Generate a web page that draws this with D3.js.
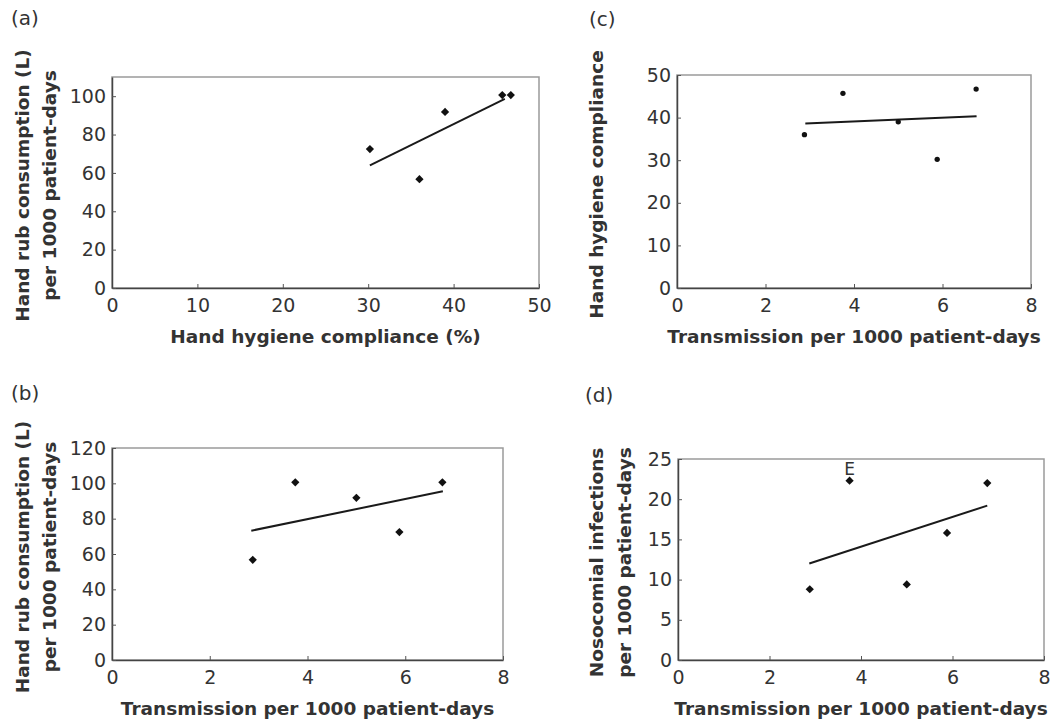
<!DOCTYPE html>
<html>
<head>
<meta charset="utf-8">
<script src="https://cdn.jsdelivr.net/npm/d3@7"></script>
<style>
  body { margin: 0; background: #fff; }
  svg text { font-family: "DejaVu Sans", sans-serif; fill: #333; }
</style>
</head>
<body>
<svg id="chart" width="1054" height="719"></svg>
<script>

// values per ward
var transmission = [2.88, 3.75, 5.0, 5.88, 6.76];
var compliance   = [36.0, 45.7, 39.0, 30.2, 46.7];
var handRub      = [56.7, 100.6, 91.8, 72.4, 100.6];
var infections   = [8.8, 22.3, 9.4, 15.8, 22.0];

// end points of the fitted lines
var fitA = {x: [30.2, 46.0], y: [63.9, 98.6]};
var fitB = {x: [2.85, 6.77], y: [73.2, 95.5]};
var fitC = {x: [2.9, 6.77], y: [38.6, 40.3]};
var fitD = {x: [2.87, 6.76], y: [12.0, 19.2]};

// tick labels
var ticksPct   = [0, 10, 20, 30, 40, 50];
var ticksTrans = [0, 2, 4, 6, 8];
var ticksRubA  = [0, 20, 40, 60, 80, 100];
var ticksRubB  = [0, 20, 40, 60, 80, 100, 120];
var ticksComp  = [0, 10, 20, 30, 40, 50];
var ticksInf   = [0, 5, 10, 15, 20, 25];

var svg = d3.select('#chart');

function drawPanel(p) {
  var x = d3.scaleLinear().domain(p.xDomain).range([p.left, p.right]);
  var y = d3.scaleLinear().domain(p.yDomain).range([p.bottom, p.top]);
  var g = svg.append('g');

  // frame: light top/right edges
  g.append('rect')
    .attr('x', p.left).attr('y', p.top)
    .attr('width', p.right - p.left).attr('height', p.bottom - p.top)
    .attr('fill', 'none')
    .attr('stroke', '#9a9a9a')
    .attr('stroke-width', 1.5);

  var xAxis = g.append('g')
    .attr('transform', 'translate(0,' + p.bottom + ')')
    .call(d3.axisBottom(x).tickValues(p.xTicks).tickFormat(d3.format('d'))
      .tickSizeInner(-4).tickSizeOuter(0).tickPadding(11));
  var yAxis = g.append('g')
    .attr('transform', 'translate(' + p.left + ',0)')
    .call(d3.axisLeft(y).tickValues(p.yTicks).tickFormat(d3.format('d'))
      .tickSizeInner(-4).tickSizeOuter(0).tickPadding(6));

  [xAxis, yAxis].forEach(function(a) {
    a.select('.domain').attr('stroke', '#444').attr('stroke-width', 1.5);
    a.selectAll('.tick line').attr('stroke', '#555');
    a.selectAll('.tick text').attr('font-size', 19).attr('fill', '#333')
      .style('font-family', '"DejaVu Sans", sans-serif');
  });

  // fitted line
  g.append('line')
    .attr('x1', x(p.fit.x[0])).attr('y1', y(p.fit.y[0]))
    .attr('x2', x(p.fit.x[1])).attr('y2', y(p.fit.y[1]))
    .attr('stroke', '#1a1a1a')
    .attr('stroke-width', 2);

  // points
  var pts = p.xs.map(function(v, i) { return [v, p.ys[i]]; });
  var sym = d3.symbol().type(p.round ? d3.symbolCircle : d3.symbolSquare).size(p.round ? 22 : 34);
  g.selectAll('path.pt').data(pts).enter()
    .append('path')
      .attr('class', 'pt')
      .attr('d', sym)
      .attr('fill', '#111')
      .attr('transform', function(d) {
        return 'translate(' + x(d[0]) + ',' + y(d[1]) + ')' + (p.round ? '' : ' rotate(45)');
      });

  // axis titles
  g.append('text')
    .attr('x', (p.left + p.right) / 2)
    .attr('y', p.bottom + 55)
    .attr('text-anchor', 'middle')
    .attr('font-size', 18.5)
    .attr('font-weight', 'bold')
    .text(p.xTitle);

  var cy = (p.top + p.bottom) / 2 + 3;
  p.yTitle.forEach(function(t, i) {
    g.append('text')
      .attr('transform', 'translate(' + p.yTitleX[i] + ',' + cy + ') rotate(-90)')
      .attr('text-anchor', 'middle')
      .attr('dy', '0.35em')
      .attr('font-size', 18.5)
      .attr('font-weight', 'bold')
      .text(t);
  });

  // panel letter
  g.append('text')
    .attr('x', p.letterX).attr('y', p.letterY)
    .attr('font-size', 20)
    .text(p.letter);

  if (p.note) {
    g.append('text')
      .attr('x', x(p.note.x)).attr('y', y(p.note.y) - 6)
      .attr('text-anchor', 'middle')
      .attr('font-size', 17)
      .attr('fill', '#444')
      .text(p.note.text);
  }
}

drawPanel({
  left: 112, right: 539, top: 77, bottom: 288,
  xDomain: [0, 50], yDomain: [0, 110],
  xTicks: ticksPct, yTicks: ticksRubA,
  xs: compliance, ys: handRub, fit: fitA,
  xTitle: 'Hand hygiene compliance (%)',
  yTitle: ['Hand rub consumption (L)', 'per 1000 patient-days'], yTitleX: [23, 50],
  letter: '(a)', letterX: 11, letterY: 25
});

drawPanel({
  left: 112, right: 503, top: 448, bottom: 660,
  xDomain: [0, 8], yDomain: [0, 120],
  xTicks: ticksTrans, yTicks: ticksRubB,
  xs: transmission, ys: handRub, fit: fitB,
  xTitle: 'Transmission per 1000 patient-days',
  yTitle: ['Hand rub consumption (L)', 'per 1000 patient-days'], yTitleX: [23, 50],
  letter: '(b)', letterX: 11, letterY: 400
});

drawPanel({
  left: 677, right: 1031, top: 75, bottom: 288,
  xDomain: [0, 8], yDomain: [0, 50],
  xTicks: ticksTrans, yTicks: ticksComp,
  xs: transmission, ys: compliance, fit: fitC, round: true,
  xTitle: 'Transmission per 1000 patient-days',
  yTitle: ['Hand hygiene compliance'], yTitleX: [597],
  letter: '(c)', letterX: 589, letterY: 26
});

drawPanel({
  left: 678, right: 1044, top: 459, bottom: 660,
  xDomain: [0, 8], yDomain: [0, 25],
  xTicks: ticksTrans, yTicks: ticksInf,
  xs: transmission, ys: infections, fit: fitD,
  xTitle: 'Transmission per 1000 patient-days',
  yTitle: ['Nosocomial infections', 'per 1000 patient-days'], yTitleX: [597, 625],
  letter: '(d)', letterX: 585, letterY: 402,
  note: {x: 3.75, y: 22.3, text: 'E'}
});

</script>
</body>
</html>
